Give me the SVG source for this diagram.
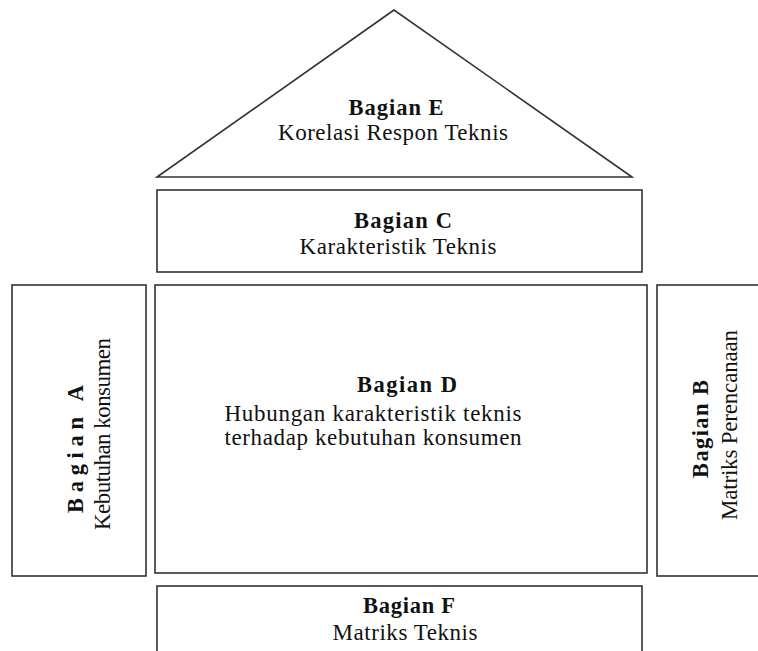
<svg xmlns="http://www.w3.org/2000/svg" width="758" height="651" viewBox="0 0 758 651">
<style>
.box{fill:#fff;stroke:#333;stroke-width:1.6}
text{font-family:"Liberation Serif","Times New Roman",serif;font-size:23px;fill:#111;text-anchor:middle}
.b{font-weight:bold;font-size:22.5px}
</style>
<rect width="758" height="651" fill="#fff"/>
<g id="connectors"></g>
<g id="bagian-e">
<polygon class="box" points="394,10 157,177 632,177"/>
<text class="b" x="396" y="115" textLength="95" lengthAdjust="spacing">Bagian E</text>
<text x="393" y="140" textLength="230" lengthAdjust="spacing">Korelasi Respon Teknis</text>
</g>
<g id="bagian-c">
<rect class="box" x="157" y="190" width="485" height="82"/>
<text class="b" x="403" y="228" textLength="98" lengthAdjust="spacing">Bagian C</text>
<text x="398" y="254" textLength="197" lengthAdjust="spacing">Karakteristik  Teknis</text>
</g>
<g id="bagian-a">
<rect class="box" x="12" y="285" width="134" height="291"/>
<text class="b" transform="translate(83,449) rotate(-90)" textLength="128" lengthAdjust="spacing">Bagian A</text>
<text transform="translate(110,434) rotate(-90)" textLength="192" lengthAdjust="spacing">Kebutuhan konsumen</text>
</g>
<g id="bagian-d">
<rect class="box" x="155" y="285" width="492" height="288"/>
<text class="b" x="407" y="392" textLength="100" lengthAdjust="spacing">Bagian D</text>
<text x="373" y="421" textLength="297" lengthAdjust="spacing">Hubungan karakteristik teknis</text>
<text x="373" y="445" textLength="297" lengthAdjust="spacing">terhadap kebutuhan konsumen</text>
</g>
<g id="bagian-b">
<rect class="box" x="657" y="285" width="110" height="291"/>
<text class="b" transform="translate(708,429) rotate(-90)" textLength="98" lengthAdjust="spacing">Bagian B</text>
<text transform="translate(737,425) rotate(-90)" textLength="190" lengthAdjust="spacing">Matriks  Perencanaan</text>
</g>
<g id="bagian-f">
<rect class="box" x="157" y="586" width="485" height="80"/>
<text class="b" x="409" y="613" textLength="92" lengthAdjust="spacing">Bagian F</text>
<text x="405" y="640" textLength="145" lengthAdjust="spacing">Matriks  Teknis</text>
</g>
</svg>
